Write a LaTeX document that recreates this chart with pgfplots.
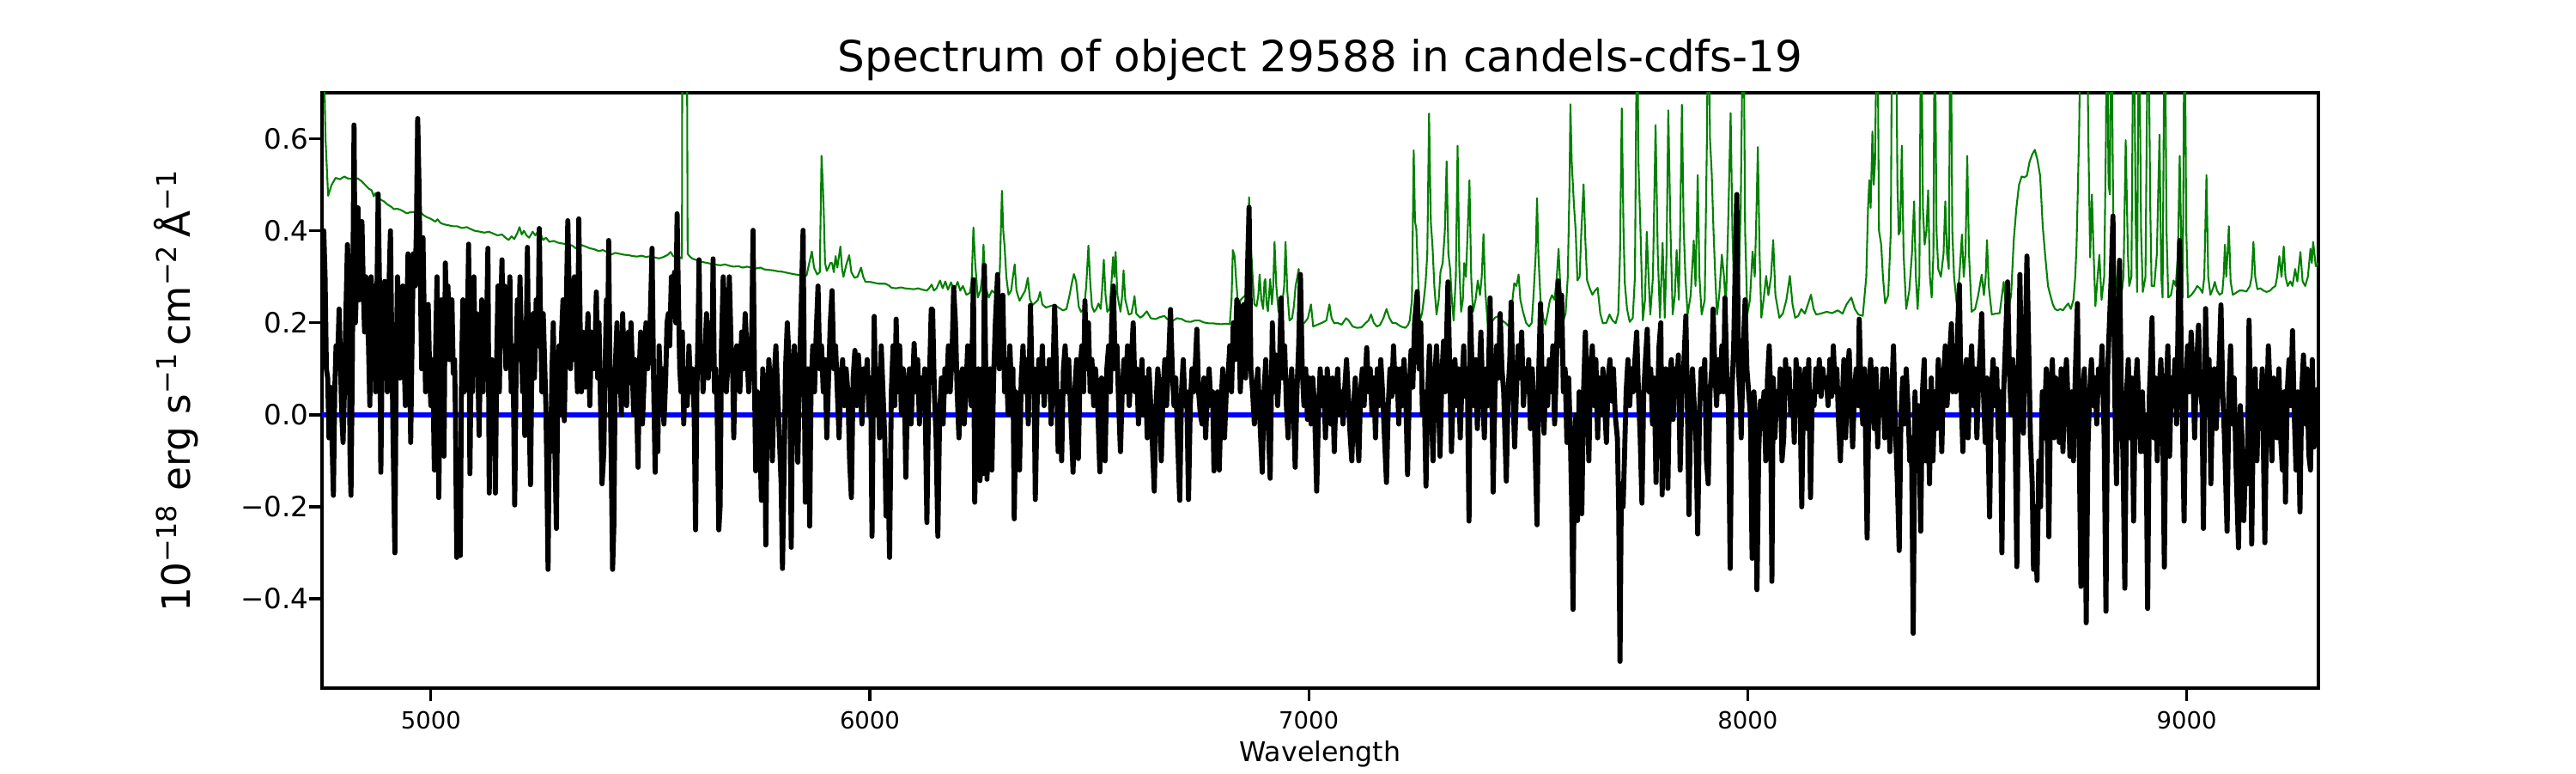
\documentclass[border=0pt]{standalone}
\usepackage{fontspec}
\setmainfont{DejaVu Sans}
\usepackage{pgfplots}
\pgfplotsset{compat=1.18}
\begin{document}
\begin{tikzpicture}
\begin{axis}[
  at={(0,0)}, anchor=south west,
  scale only axis, width=558bp, height=166.32bp,
  xmin=4752, xmax=9300, ymin=-0.594, ymax=0.70,
  axis line style={line width=0.8bp},
  tick style={line width=0.8bp, black},
  major tick length=3.5bp, tick align=outside,
  xtick pos=left, ytick pos=left,
  xtick={5000,6000,7000,8000,9000},
  xticklabels={5000,6000,7000,8000,9000},
  ytick={-0.4,-0.2,0,0.2,0.4,0.6},
  yticklabels={−0.4,−0.2,0.0,0.2,0.4,0.6},
  xticklabel style={font=\fontsize{6.6bp}{7bp}\selectfont, inner sep=0pt, anchor=north, yshift=-2.8bp},
  yticklabel style={font=\fontsize{7.8bp}{9bp}\selectfont, inner sep=0pt, anchor=east},
  every axis title/.style={at={(0.5,1)}, anchor=base, yshift=6bp, font=\fontsize{12bp}{14bp}\selectfont},
  title={Spectrum of object 29588 in candels-cdfs-19},
  every axis x label/.style={at={(axis description cs:0.5,0)}, anchor=base, yshift=-20.6bp, font=\fontsize{7.6bp}{9bp}\selectfont},
  xlabel={Wavelength},
  every axis y label/.style={at={(axis description cs:-0.0556,0.5)}, anchor=south, rotate=90, font=\fontsize{10.9bp}{13bp}\selectfont},
  ylabel={10\textsuperscript{−18} erg s\textsuperscript{−1}\,cm\textsuperscript{−2}\,Å\textsuperscript{−1}},
]
\coordinate (SW) at (rel axis cs:0,0);
% green (sky / noise)
\addplot[color={rgb,255:red,0;green,128;blue,0}, line width=0.5bp, line join=round] coordinates {
(4752,0.95)(4756,0.8)(4760,0.60)(4766,0.476)(4774,0.50)(4783,0.515)(4793,0.512)(4803,0.518)(4810,0.514)(4818,0.513)(4826,0.512)(4833,0.514)(4842,0.508)(4850,0.50)(4858,0.492)(4865,0.488)(4870,0.475)(4874,0.482)(4878,0.473)(4885,0.468)(4893,0.464)(4900,0.458)(4910,0.452)(4916,0.447)(4922,0.448)(4930,0.446)(4938,0.442)(4945,0.438)(4952,0.44)(4962,0.441)(4970,0.436)(4977,0.44)(4982,0.435)(4990,0.43)(5000,0.426)(5010,0.42)(5015,0.425)(5022,0.417)(5030,0.414)(5040,0.412)(5050,0.41)(5060,0.41)(5070,0.406)(5082,0.408)(5090,0.404)(5100,0.40)(5112,0.398)(5122,0.396)(5132,0.398)(5142,0.394)(5152,0.39)(5162,0.392)(5170,0.385)(5177,0.38)(5184,0.388)(5190,0.382)(5197,0.395)(5202,0.408)(5207,0.392)(5212,0.40)(5218,0.39)(5224,0.385)(5232,0.398)(5238,0.39)(5247,0.403)(5252,0.388)(5256,0.38)(5262,0.385)(5270,0.376)(5280,0.378)(5290,0.374)(5302,0.372)(5312,0.37)(5322,0.368)(5330,0.362)(5340,0.37)(5352,0.366)(5362,0.362)(5372,0.36)(5382,0.356)(5392,0.358)(5401,0.354)(5410,0.348)(5420,0.352)(5430,0.35)(5440,0.348)(5451,0.347)(5460,0.345)(5470,0.344)(5480,0.346)(5490,0.343)(5501,0.345)(5510,0.342)(5520,0.34)(5530,0.343)(5540,0.348)(5546,0.354)(5552,0.345)(5561,0.341)(5568,0.342)(5572,0.34)(5573,0.95)(5583,0.95)(5585,0.35)(5589,0.345)(5595,0.34)(5600,0.338)(5610,0.335)(5620,0.332)(5630,0.33)(5640,0.328)(5651,0.326)(5660,0.325)(5670,0.327)(5680,0.324)(5690,0.322)(5701,0.323)(5710,0.32)(5720,0.322)(5730,0.32)(5740,0.318)(5751,0.32)(5760,0.316)(5770,0.315)(5780,0.314)(5790,0.312)(5801,0.311)(5810,0.309)(5820,0.307)(5831,0.305)(5840,0.304)(5848,0.303)(5856,0.303)(5862,0.33)(5868,0.355)(5873,0.32)(5880,0.305)(5886,0.31)(5890,0.563)(5893,0.50)(5895,0.444)(5898,0.33)(5902,0.313)(5906,0.32)(5910,0.33)(5914,0.33)(5918,0.31)(5922,0.345)(5926,0.32)(5933,0.366)(5937,0.315)(5940,0.30)(5946,0.325)(5953,0.347)(5958,0.31)(5965,0.298)(5972,0.30)(5980,0.32)(5985,0.30)(5990,0.289)(6000,0.289)(6010,0.287)(6020,0.285)(6035,0.285)(6042,0.282)(6050,0.276)(6060,0.275)(6071,0.277)(6080,0.275)(6090,0.274)(6100,0.273)(6110,0.275)(6120,0.272)(6130,0.27)(6135,0.275)(6141,0.283)(6146,0.27)(6152,0.275)(6160,0.292)(6166,0.275)(6172,0.29)(6178,0.272)(6185,0.288)(6192,0.27)(6200,0.289)(6206,0.27)(6212,0.28)(6220,0.261)(6228,0.265)(6232,0.29)(6236,0.407)(6240,0.33)(6246,0.255)(6252,0.27)(6256,0.30)(6259,0.37)(6263,0.28)(6271,0.255)(6278,0.27)(6286,0.264)(6291,0.292)(6296,0.31)(6301,0.487)(6304,0.40)(6307,0.367)(6311,0.30)(6316,0.261)(6322,0.27)(6326,0.30)(6330,0.327)(6334,0.27)(6341,0.248)(6348,0.26)(6354,0.27)(6360,0.298)(6365,0.25)(6371,0.239)(6378,0.245)(6383,0.25)(6388,0.267)(6393,0.24)(6401,0.233)(6410,0.236)(6421,0.239)(6430,0.233)(6440,0.227)(6448,0.23)(6455,0.26)(6461,0.29)(6465,0.306)(6470,0.29)(6476,0.235)(6481,0.224)(6488,0.23)(6493,0.28)(6498,0.368)(6502,0.29)(6506,0.236)(6511,0.224)(6516,0.23)(6521,0.242)(6526,0.23)(6529,0.27)(6533,0.337)(6537,0.26)(6541,0.224)(6546,0.23)(6550,0.28)(6554,0.343)(6557,0.30)(6560,0.354)(6564,0.26)(6571,0.224)(6575,0.26)(6578,0.314)(6582,0.25)(6590,0.218)(6596,0.22)(6600,0.24)(6603,0.258)(6607,0.22)(6616,0.211)(6622,0.215)(6631,0.225)(6640,0.21)(6651,0.208)(6660,0.212)(6671,0.215)(6680,0.206)(6691,0.205)(6700,0.21)(6711,0.208)(6720,0.203)(6731,0.202)(6740,0.205)(6751,0.205)(6760,0.201)(6771,0.199)(6780,0.199)(6790,0.198)(6800,0.197)(6810,0.198)(6820,0.197)(6824,0.25)(6827,0.358)(6831,0.345)(6834,0.30)(6839,0.236)(6845,0.25)(6850,0.255)(6856,0.26)(6860,0.30)(6864,0.473)(6867,0.38)(6871,0.317)(6876,0.24)(6881,0.236)(6885,0.26)(6888,0.305)(6892,0.25)(6896,0.23)(6899,0.29)(6901,0.295)(6904,0.24)(6907,0.225)(6912,0.295)(6916,0.24)(6919,0.28)(6922,0.376)(6926,0.28)(6931,0.224)(6938,0.23)(6944,0.28)(6947,0.376)(6951,0.27)(6956,0.205)(6962,0.21)(6966,0.236)(6970,0.28)(6974,0.30)(6977,0.317)(6980,0.26)(6984,0.199)(6990,0.20)(6998,0.21)(7005,0.24)(7010,0.192)(7020,0.196)(7030,0.2)(7040,0.205)(7047,0.24)(7052,0.21)(7058,0.199)(7065,0.20)(7075,0.196)(7085,0.21)(7091,0.205)(7100,0.192)(7110,0.189)(7120,0.19)(7130,0.20)(7136,0.205)(7142,0.218)(7148,0.20)(7155,0.192)(7162,0.195)(7170,0.21)(7177,0.23)(7184,0.21)(7190,0.20)(7199,0.199)(7210,0.192)(7220,0.189)(7226,0.195)(7230,0.205)(7235,0.25)(7239,0.575)(7242,0.42)(7245,0.404)(7249,0.30)(7253,0.205)(7258,0.22)(7262,0.25)(7266,0.286)(7270,0.35)(7274,0.655)(7278,0.42)(7282,0.364)(7286,0.28)(7291,0.218)(7296,0.25)(7300,0.311)(7305,0.33)(7310,0.40)(7314,0.551)(7318,0.35)(7322,0.317)(7326,0.25)(7330,0.205)(7335,0.30)(7339,0.585)(7343,0.32)(7347,0.224)(7351,0.25)(7354,0.330)(7358,0.30)(7362,0.40)(7366,0.51)(7370,0.30)(7374,0.224)(7380,0.25)(7385,0.292)(7390,0.26)(7394,0.30)(7398,0.393)(7402,0.27)(7408,0.192)(7415,0.20)(7424,0.211)(7432,0.215)(7440,0.205)(7448,0.20)(7456,0.192)(7463,0.24)(7468,0.286)(7473,0.28)(7478,0.305)(7482,0.25)(7488,0.224)(7495,0.20)(7502,0.192)(7508,0.20)(7512,0.26)(7517,0.35)(7520,0.471)(7523,0.35)(7528,0.248)(7534,0.211)(7539,0.196)(7544,0.22)(7549,0.248)(7554,0.26)(7560,0.25)(7565,0.30)(7569,0.361)(7573,0.28)(7580,0.205)(7585,0.22)(7590,0.30)(7594,0.50)(7596,0.675)(7599,0.55)(7604,0.457)(7608,0.40)(7612,0.292)(7617,0.30)(7621,0.40)(7626,0.501)(7630,0.38)(7634,0.292)(7640,0.275)(7646,0.261)(7652,0.27)(7658,0.276)(7664,0.22)(7670,0.199)(7678,0.20)(7685,0.218)(7692,0.205)(7699,0.199)(7705,0.22)(7709,0.35)(7713,0.666)(7717,0.40)(7720,0.286)(7725,0.23)(7731,0.202)(7738,0.21)(7743,0.30)(7748,0.95)(7751,0.55)(7756,0.389)(7761,0.205)(7766,0.25)(7770,0.398)(7774,0.30)(7778,0.218)(7784,0.30)(7790,0.63)(7795,0.35)(7800,0.211)(7806,0.374)(7811,0.211)(7815,0.35)(7819,0.662)(7824,0.40)(7829,0.218)(7834,0.26)(7838,0.358)(7843,0.25)(7846,0.40)(7850,0.674)(7854,0.407)(7858,0.30)(7863,0.218)(7870,0.26)(7877,0.379)(7881,0.28)(7886,0.521)(7890,0.30)(7895,0.218)(7902,0.25)(7907,0.60)(7910,0.95)(7914,0.60)(7918,0.524)(7922,0.40)(7926,0.30)(7930,0.218)(7935,0.26)(7941,0.348)(7946,0.30)(7950,0.23)(7955,0.40)(7961,0.656)(7965,0.40)(7968,0.30)(7972,0.218)(7978,0.24)(7984,0.45)(7990,0.95)(7994,0.40)(7999,0.218)(8005,0.25)(8011,0.355)(8016,0.30)(8020,0.45)(8023,0.582)(8027,0.35)(8031,0.211)(8036,0.25)(8042,0.302)(8047,0.26)(8053,0.30)(8058,0.38)(8063,0.26)(8072,0.211)(8080,0.22)(8088,0.25)(8096,0.302)(8102,0.24)(8108,0.211)(8115,0.215)(8122,0.23)(8130,0.22)(8137,0.24)(8144,0.261)(8150,0.23)(8156,0.218)(8166,0.22)(8180,0.224)(8192,0.221)(8205,0.227)(8216,0.22)(8225,0.24)(8236,0.255)(8244,0.23)(8252,0.218)(8262,0.215)(8270,0.30)(8274,0.45)(8277,0.51)(8280,0.45)(8284,0.616)(8287,0.50)(8290,0.55)(8295,0.95)(8299,0.40)(8304,0.37)(8308,0.30)(8313,0.242)(8320,0.26)(8326,0.40)(8329,0.95)(8333,0.95)(8337,0.95)(8341,0.50)(8344,0.392)(8347,0.40)(8351,0.585)(8355,0.35)(8361,0.23)(8368,0.27)(8374,0.35)(8379,0.464)(8383,0.30)(8387,0.23)(8391,0.30)(8395,0.95)(8399,0.45)(8403,0.37)(8407,0.40)(8411,0.488)(8415,0.30)(8419,0.255)(8423,0.35)(8426,0.95)(8430,0.40)(8434,0.317)(8440,0.30)(8446,0.35)(8450,0.464)(8454,0.35)(8458,0.317)(8462,0.95)(8466,0.40)(8470,0.30)(8476,0.242)(8482,0.30)(8488,0.392)(8492,0.30)(8496,0.35)(8500,0.563)(8504,0.35)(8510,0.224)(8518,0.23)(8525,0.26)(8533,0.305)(8538,0.26)(8542,0.30)(8545,0.38)(8549,0.28)(8556,0.218)(8565,0.22)(8574,0.221)(8583,0.289)(8588,0.24)(8594,0.23)(8600,0.26)(8606,0.38)(8612,0.45)(8618,0.50)(8624,0.518)(8630,0.516)(8636,0.52)(8642,0.55)(8648,0.566)(8654,0.576)(8660,0.554)(8666,0.52)(8672,0.41)(8678,0.342)(8684,0.28)(8689,0.261)(8695,0.24)(8700,0.23)(8706,0.227)(8712,0.23)(8718,0.227)(8724,0.235)(8730,0.242)(8736,0.23)(8742,0.25)(8746,0.30)(8749,0.367)(8755,0.616)(8759,0.95)(8766,0.95)(8772,0.95)(8776,0.60)(8780,0.342)(8784,0.479)(8788,0.35)(8792,0.236)(8797,0.30)(8801,0.348)(8806,0.25)(8812,0.30)(8816,0.60)(8818,0.95)(8822,0.50)(8825,0.479)(8828,0.95)(8832,0.50)(8835,0.236)(8841,0.30)(8846,0.339)(8850,0.25)(8856,0.30)(8861,0.597)(8866,0.35)(8869,0.28)(8874,0.30)(8879,0.95)(8884,0.40)(8887,0.267)(8891,0.95)(8896,0.40)(8900,0.267)(8906,0.30)(8912,0.95)(8917,0.45)(8920,0.28)(8926,0.28)(8932,0.35)(8938,0.609)(8942,0.30)(8945,0.255)(8950,0.95)(8954,0.40)(8958,0.255)(8964,0.26)(8970,0.292)(8975,0.28)(8980,0.35)(8984,0.563)(8988,0.35)(8991,0.255)(8995,0.95)(8999,0.40)(9003,0.255)(9010,0.26)(9018,0.27)(9024,0.28)(9030,0.275)(9036,0.265)(9040,0.30)(9045,0.521)(9049,0.30)(9054,0.261)(9060,0.275)(9064,0.289)(9069,0.27)(9075,0.261)(9081,0.265)(9084,0.30)(9087,0.37)(9090,0.30)(9093,0.35)(9096,0.41)(9100,0.29)(9105,0.261)(9112,0.265)(9120,0.27)(9128,0.27)(9136,0.268)(9144,0.28)(9148,0.30)(9152,0.376)(9156,0.30)(9161,0.273)(9168,0.275)(9175,0.27)(9182,0.267)(9190,0.27)(9196,0.276)(9202,0.28)(9206,0.30)(9211,0.345)(9216,0.30)(9221,0.366)(9225,0.30)(9230,0.28)(9236,0.29)(9241,0.28)(9247,0.317)(9252,0.29)(9259,0.354)(9264,0.29)(9270,0.28)(9276,0.30)(9282,0.361)(9285,0.33)(9288,0.376)(9292,0.34)(9294,0.323)(9300,0.33)
};
% blue zero line
\addplot[color={rgb,255:red,0;green,0;blue,255}, line width=1.3bp] coordinates {(4752,0)(9280,0)};
% black spectrum
\addplot[black, line width=1.4bp, line join=round] coordinates {
(4753,0.20)(4756,0.40)(4759,0.30)(4762,0.10)(4765,0.08)(4768,-0.05)(4771,0.06)(4774,-0.02)(4778,-0.175)(4781,0.05)(4784,0.15)(4787,0.10)(4791,0.23)(4794,0.12)(4797,0.0)(4800,-0.06)(4803,0.05)(4806,0.20)(4810,0.37)(4813,0.30)(4816,-0.10)(4818,-0.175)(4821,0.10)(4825,0.63)(4828,0.20)(4831,0.29)(4834,0.45)(4837,0.25)(4840,0.30)(4843,0.42)(4846,0.28)(4849,0.18)(4852,0.30)(4855,0.25)(4858,0.15)(4861,0.02)(4864,0.30)(4867,0.22)(4870,0.28)(4874,0.05)(4877,0.25)(4880,0.48)(4883,0.28)(4886,-0.125)(4889,0.12)(4892,0.28)(4895,0.29)(4898,0.20)(4901,0.05)(4904,0.26)(4908,0.40)(4911,0.15)(4914,-0.05)(4918,-0.30)(4921,0.10)(4924,0.30)(4927,0.22)(4930,0.08)(4933,0.18)(4936,0.28)(4939,0.12)(4942,0.02)(4945,0.20)(4948,0.35)(4951,0.25)(4954,-0.06)(4957,0.15)(4960,0.35)(4964,0.28)(4967,0.40)(4970,0.644)(4973,0.50)(4976,0.30)(4979,0.10)(4982,0.385)(4985,0.20)(4988,0.05)(4991,0.11)(4994,0.24)(4997,0.10)(5000,0.02)(5004,0.12)(5008,-0.12)(5011,0.15)(5014,0.30)(5018,-0.18)(5021,0.05)(5024,0.25)(5027,0.10)(5030,-0.09)(5033,0.33)(5036,0.20)(5039,0.28)(5042,0.12)(5045,0.22)(5048,0.25)(5051,0.09)(5054,0.12)(5056,0.0)(5059,-0.31)(5062,-0.29)(5065,-0.20)(5067,-0.306)(5070,0.10)(5073,0.25)(5076,0.05)(5079,0.18)(5082,0.10)(5086,0.371)(5089,-0.128)(5092,0.15)(5095,0.05)(5098,0.30)(5101,0.12)(5104,0.22)(5107,0.10)(5110,-0.045)(5113,0.15)(5116,0.25)(5119,0.05)(5122,0.20)(5125,0.10)(5128,0.25)(5130,0.362)(5133,-0.17)(5136,0.05)(5139,0.12)(5142,-0.02)(5145,0.10)(5147,-0.17)(5150,0.12)(5153,0.28)(5156,0.05)(5159,0.22)(5162,0.337)(5165,0.15)(5168,0.28)(5171,0.10)(5174,0.22)(5177,0.18)(5180,0.30)(5183,0.05)(5187,0.15)(5191,-0.196)(5194,0.08)(5197,0.25)(5200,0.12)(5203,0.30)(5206,0.18)(5209,0.05)(5212,0.20)(5214,-0.045)(5217,0.15)(5220,0.364)(5223,0.05)(5227,-0.152)(5230,0.10)(5233,0.22)(5236,0.08)(5240,0.25)(5244,0.15)(5247,0.405)(5250,0.20)(5253,0.05)(5256,0.22)(5259,0.12)(5262,0.02)(5264,-0.10)(5267,-0.336)(5270,0.0)(5273,-0.08)(5276,0.10)(5279,0.20)(5282,-0.05)(5286,-0.247)(5289,0.05)(5292,0.15)(5295,0.0)(5298,0.18)(5301,0.25)(5304,-0.013)(5308,0.20)(5312,0.422)(5315,0.28)(5318,0.10)(5321,0.25)(5324,0.12)(5327,0.30)(5330,0.18)(5334,0.05)(5337,0.426)(5340,0.20)(5343,0.05)(5346,0.18)(5349,0.12)(5352,0.06)(5355,0.15)(5358,0.22)(5362,0.02)(5366,0.18)(5370,0.10)(5374,0.15)(5377,0.267)(5380,0.08)(5383,0.20)(5386,0.05)(5390,-0.15)(5394,-0.082)(5397,0.10)(5400,0.25)(5403,0.15)(5405,0.379)(5408,0.10)(5411,-0.10)(5414,-0.336)(5417,-0.237)(5420,0.10)(5424,0.20)(5428,0.05)(5431,0.12)(5434,0.0)(5437,0.22)(5440,0.10)(5443,0.15)(5446,0.02)(5450,0.18)(5453,0.07)(5456,0.20)(5459,0.10)(5462,0.0)(5465,0.12)(5468,0.05)(5472,-0.114)(5475,0.10)(5478,0.18)(5482,-0.02)(5486,0.08)(5490,0.20)(5494,0.10)(5498,0.15)(5501,0.25)(5504,0.362)(5507,0.10)(5511,-0.125)(5514,0.08)(5517,-0.08)(5520,0.15)(5524,0.05)(5528,0.10)(5531,-0.02)(5535,0.08)(5538,0.20)(5541,0.22)(5544,0.15)(5548,0.30)(5552,0.25)(5555,0.31)(5558,0.20)(5561,0.437)(5564,0.25)(5567,0.10)(5570,0.05)(5573,0.18)(5576,-0.02)(5580,0.10)(5584,0.02)(5588,0.15)(5592,0.05)(5596,0.10)(5600,0.0)(5603,-0.25)(5606,0.05)(5609,0.20)(5611,0.337)(5614,0.10)(5617,0.15)(5620,0.05)(5624,0.12)(5628,0.22)(5632,0.08)(5636,0.20)(5640,0.10)(5643,0.339)(5646,0.05)(5649,0.10)(5652,0.02)(5656,-0.25)(5659,-0.198)(5662,0.15)(5666,0.30)(5670,0.22)(5673,0.05)(5676,0.10)(5680,0.30)(5684,0.15)(5687,0.13)(5690,-0.05)(5693,0.10)(5697,0.15)(5700,0.13)(5704,0.05)(5708,0.18)(5712,0.10)(5716,0.22)(5720,0.14)(5724,0.05)(5728,0.12)(5731,0.18)(5734,0.401)(5737,0.10)(5740,-0.122)(5744,0.05)(5748,0.02)(5753,-0.186)(5756,0.10)(5760,0.05)(5763,-0.283)(5766,0.0)(5770,0.12)(5774,0.05)(5778,-0.10)(5782,0.08)(5786,0.15)(5790,0.05)(5794,-0.05)(5798,-0.15)(5801,-0.334)(5805,-0.10)(5808,0.10)(5812,0.20)(5816,0.12)(5818,0.05)(5821,-0.288)(5824,0.05)(5828,0.15)(5832,0.05)(5836,-0.103)(5840,0.10)(5844,0.25)(5848,0.401)(5851,0.05)(5853,-0.19)(5856,0.0)(5859,0.10)(5863,-0.242)(5866,0.05)(5870,0.15)(5874,0.05)(5878,0.18)(5882,0.28)(5886,0.10)(5890,0.15)(5894,0.05)(5898,0.12)(5902,-0.05)(5906,0.08)(5910,0.20)(5914,0.27)(5918,0.10)(5922,0.15)(5926,0.05)(5930,-0.05)(5934,0.08)(5938,0.12)(5942,0.02)(5946,0.10)(5950,0.05)(5954,-0.10)(5958,-0.18)(5962,0.08)(5966,0.14)(5970,0.02)(5974,0.13)(5978,0.06)(5982,-0.02)(5986,0.10)(5990,0.05)(5994,0.12)(5998,0.0)(6002,0.08)(6005,-0.264)(6008,0.05)(6010,0.214)(6014,0.0)(6018,0.10)(6022,-0.05)(6026,0.15)(6030,0.05)(6034,-0.05)(6037,-0.22)(6041,-0.10)(6045,-0.31)(6049,0.05)(6053,0.15)(6057,0.02)(6060,0.208)(6064,0.05)(6068,0.15)(6072,0.0)(6076,0.10)(6079,0.05)(6082,-0.136)(6086,0.05)(6090,0.10)(6094,-0.02)(6098,0.08)(6101,0.155)(6105,0.05)(6109,0.12)(6113,-0.02)(6117,0.08)(6121,0.02)(6125,0.10)(6130,-0.234)(6134,0.05)(6137,0.12)(6140,0.23)(6143,0.229)(6147,0.05)(6151,-0.05)(6155,-0.264)(6159,0.0)(6163,0.08)(6167,-0.02)(6171,0.10)(6175,0.05)(6179,0.15)(6183,0.05)(6187,0.12)(6191,0.277)(6195,0.20)(6199,0.05)(6203,-0.05)(6207,0.08)(6211,0.10)(6215,-0.02)(6219,0.05)(6223,0.15)(6227,0.10)(6231,0.02)(6236,0.294)(6239,-0.19)(6243,0.05)(6247,0.10)(6251,-0.143)(6255,0.10)(6258,-0.128)(6261,0.325)(6264,0.10)(6267,-0.14)(6270,0.02)(6274,0.10)(6278,-0.12)(6282,0.08)(6286,0.20)(6291,0.305)(6295,0.10)(6299,0.15)(6303,0.26)(6307,0.05)(6311,0.12)(6315,0.0)(6319,0.15)(6323,0.05)(6326,0.10)(6329,-0.226)(6333,0.05)(6337,-0.05)(6341,-0.12)(6345,0.08)(6349,0.15)(6353,0.05)(6357,0.12)(6361,-0.02)(6366,0.238)(6370,0.05)(6374,0.10)(6377,-0.184)(6381,0.02)(6385,0.12)(6389,0.05)(6393,0.15)(6397,0.02)(6401,0.10)(6405,0.05)(6409,0.12)(6413,-0.02)(6417,0.08)(6421,0.236)(6425,0.10)(6429,-0.08)(6433,0.05)(6437,-0.10)(6441,0.10)(6445,0.15)(6449,0.05)(6453,0.12)(6457,0.02)(6463,-0.125)(6467,0.05)(6471,0.12)(6475,-0.095)(6479,0.10)(6483,0.15)(6487,0.05)(6490,0.248)(6494,0.10)(6498,0.20)(6502,0.05)(6506,0.12)(6510,0.02)(6514,0.10)(6518,0.05)(6524,-0.124)(6528,0.08)(6532,0.0)(6536,-0.10)(6540,0.10)(6544,0.15)(6548,0.05)(6551,0.20)(6555,0.28)(6559,0.10)(6563,0.15)(6567,0.02)(6571,-0.08)(6575,0.05)(6579,0.12)(6583,0.05)(6587,0.15)(6591,0.02)(6595,0.10)(6600,0.20)(6604,0.05)(6608,0.10)(6612,-0.02)(6616,0.05)(6620,0.12)(6624,0.0)(6628,0.08)(6632,-0.05)(6636,0.10)(6640,0.02)(6644,-0.07)(6648,-0.166)(6652,0.02)(6656,0.10)(6660,0.05)(6664,-0.10)(6668,0.05)(6672,0.12)(6676,0.02)(6680,0.10)(6685,0.229)(6689,0.10)(6693,0.02)(6697,0.08)(6701,-0.05)(6706,-0.186)(6710,0.05)(6714,0.12)(6718,0.02)(6722,0.05)(6726,-0.184)(6730,0.02)(6734,0.10)(6738,0.05)(6742,0.12)(6745,0.186)(6749,0.05)(6753,0.0)(6757,-0.02)(6761,0.08)(6765,-0.05)(6769,0.05)(6773,0.10)(6777,0.02)(6781,0.05)(6784,-0.122)(6788,0.0)(6792,0.05)(6796,-0.12)(6800,0.02)(6804,0.10)(6808,-0.05)(6812,0.05)(6816,0.08)(6820,0.15)(6824,0.05)(6828,0.20)(6832,0.12)(6836,0.25)(6840,0.239)(6844,0.05)(6848,0.15)(6852,0.24)(6856,0.08)(6860,0.30)(6864,0.451)(6868,0.10)(6872,0.05)(6876,-0.02)(6880,0.05)(6884,0.10)(6888,0.0)(6894,-0.125)(6898,0.05)(6902,0.12)(6906,0.02)(6912,-0.138)(6917,0.20)(6921,0.05)(6925,0.13)(6929,0.02)(6933,0.10)(6937,0.254)(6941,0.08)(6945,0.15)(6949,0.02)(6953,-0.05)(6957,0.05)(6961,0.10)(6965,0.02)(6969,-0.114)(6973,0.05)(6977,0.15)(6981,0.305)(6985,0.10)(6989,0.02)(6993,0.10)(6997,-0.01)(7001,0.08)(7005,-0.02)(7009,0.08)(7013,0.02)(7018,-0.166)(7022,0.0)(7026,0.10)(7030,0.02)(7034,0.08)(7038,-0.05)(7042,0.10)(7046,0.05)(7050,-0.02)(7054,0.08)(7058,-0.08)(7062,0.05)(7066,0.10)(7070,0.0)(7074,0.05)(7078,-0.02)(7082,0.06)(7086,0.12)(7090,0.04)(7094,-0.04)(7098,-0.1)(7102,0.02)(7106,0.08)(7110,-0.04)(7114,-0.1)(7118,0.05)(7122,0.1)(7126,0.02)(7132,0.146)(7136,0.05)(7140,0.10)(7144,0.0)(7148,0.08)(7152,-0.05)(7156,0.10)(7160,0.02)(7164,0.12)(7168,0.05)(7172,-0.04)(7177,-0.147)(7181,0.02)(7185,0.10)(7189,0.04)(7193,0.15)(7197,0.05)(7201,0.10)(7205,-0.02)(7209,0.10)(7213,0.02)(7217,0.12)(7221,0.04)(7225,-0.13)(7229,0.05)(7233,0.14)(7237,0.06)(7241,0.20)(7247,0.268)(7251,0.10)(7255,0.20)(7259,0.0)(7263,0.05)(7267,-0.155)(7271,0.05)(7275,0.15)(7279,0.02)(7283,-0.10)(7287,0.08)(7291,0.15)(7295,0.05)(7299,-0.09)(7303,0.08)(7307,0.16)(7311,0.05)(7317,0.289)(7321,0.10)(7325,-0.08)(7329,0.05)(7333,0.12)(7337,0.02)(7341,0.10)(7345,-0.05)(7349,0.07)(7353,0.15)(7357,0.04)(7361,0.10)(7365,-0.231)(7368,0.233)(7372,0.10)(7376,0.02)(7380,0.12)(7384,-0.03)(7388,0.08)(7392,0.18)(7396,0.05)(7400,-0.05)(7404,0.10)(7408,0.02)(7413,0.254)(7417,0.05)(7420,-0.168)(7424,0.05)(7428,0.15)(7432,0.08)(7436,0.22)(7440,0.10)(7444,0.05)(7450,-0.144)(7454,0.05)(7458,0.12)(7461,0.245)(7465,0.05)(7469,-0.07)(7473,0.05)(7477,0.15)(7481,0.08)(7485,0.18)(7489,0.02)(7493,0.10)(7497,0.05)(7501,0.12)(7505,-0.03)(7509,0.10)(7513,0.02)(7520,-0.239)(7524,0.10)(7528,0.242)(7532,0.05)(7536,-0.04)(7540,0.10)(7544,0.02)(7548,0.12)(7552,0.05)(7556,0.15)(7560,-0.02)(7564,0.10)(7568,0.291)(7572,0.15)(7576,0.26)(7580,0.05)(7584,0.10)(7588,-0.06)(7592,0.08)(7596,-0.05)(7599,-0.20)(7602,-0.423)(7605,-0.10)(7608,0.0)(7612,-0.23)(7616,0.05)(7619,-0.05)(7622,-0.215)(7626,0.05)(7630,0.18)(7634,0.05)(7638,-0.10)(7642,0.10)(7646,0.15)(7650,0.02)(7654,0.12)(7658,-0.05)(7662,0.08)(7666,0.0)(7670,0.10)(7674,0.02)(7678,-0.06)(7682,0.08)(7686,0.12)(7690,0.03)(7694,0.10)(7698,0.0)(7703,-0.05)(7706,-0.20)(7709,-0.536)(7712,-0.15)(7716,-0.20)(7719,-0.10)(7723,0.05)(7727,0.12)(7731,0.02)(7735,0.10)(7739,0.05)(7743,0.12)(7747,0.18)(7751,0.05)(7755,-0.05)(7759,-0.192)(7763,0.05)(7767,0.12)(7771,0.186)(7775,0.05)(7779,0.10)(7783,-0.02)(7787,0.08)(7791,-0.147)(7795,0.05)(7798,0.15)(7802,0.20)(7805,-0.174)(7809,0.05)(7813,0.10)(7818,-0.16)(7822,0.08)(7826,0.12)(7830,-0.01)(7834,0.10)(7838,0.05)(7842,0.13)(7846,-0.12)(7850,0.05)(7854,0.10)(7859,0.215)(7862,0.05)(7866,-0.217)(7870,0.02)(7874,0.10)(7878,0.02)(7882,-0.05)(7886,-0.259)(7890,0.0)(7894,0.10)(7898,0.05)(7902,0.12)(7906,-0.10)(7910,-0.15)(7914,0.05)(7918,0.10)(7921,0.23)(7925,0.10)(7929,0.02)(7933,0.12)(7937,0.05)(7941,0.15)(7945,0.05)(7948,0.254)(7952,0.10)(7956,0.02)(7960,-0.334)(7964,0.05)(7968,0.15)(7971,0.30)(7975,0.479)(7979,0.10)(7983,0.02)(7985,-0.05)(7990,0.15)(7994,0.25)(7998,0.10)(8002,0.05)(8006,0.0)(8010,-0.312)(8014,0.05)(8017,0.0)(8021,-0.38)(8025,-0.08)(8029,0.03)(8033,-0.03)(8037,0.05)(8041,-0.10)(8045,0.08)(8049,0.15)(8052,0.05)(8055,-0.362)(8058,0.08)(8062,-0.05)(8066,0.05)(8070,0.0)(8074,0.10)(8078,-0.10)(8082,-0.05)(8086,0.12)(8090,0.05)(8094,0.10)(8098,0.0)(8102,0.05)(8106,-0.06)(8110,0.12)(8114,0.05)(8118,0.10)(8123,-0.20)(8127,0.05)(8131,0.10)(8135,-0.03)(8139,0.12)(8143,-0.18)(8147,0.05)(8151,0.02)(8155,0.10)(8159,0.05)(8163,0.12)(8167,0.04)(8171,0.10)(8175,0.06)(8179,0.08)(8183,0.02)(8187,0.12)(8191,0.04)(8195,0.15)(8199,0.05)(8203,0.10)(8207,-0.02)(8211,-0.10)(8215,0.02)(8219,0.12)(8223,-0.05)(8227,0.08)(8231,0.14)(8235,0.02)(8239,-0.07)(8243,0.05)(8247,0.10)(8251,0.02)(8254,0.208)(8258,0.05)(8262,-0.02)(8266,0.10)(8272,-0.268)(8276,0.05)(8280,0.12)(8284,0.03)(8288,-0.03)(8292,0.10)(8296,-0.07)(8300,0.05)(8304,0.02)(8308,0.10)(8312,-0.05)(8316,0.10)(8320,0.02)(8324,-0.08)(8328,0.05)(8332,0.15)(8336,-0.02)(8341,-0.15)(8345,-0.295)(8349,0.0)(8353,0.08)(8357,-0.02)(8361,0.10)(8365,0.02)(8369,-0.10)(8373,-0.05)(8377,-0.475)(8381,0.05)(8385,-0.10)(8389,0.02)(8394,-0.253)(8398,0.05)(8402,0.12)(8406,-0.10)(8410,0.05)(8414,-0.15)(8418,0.08)(8422,-0.10)(8426,0.05)(8430,-0.03)(8434,0.12)(8438,0.05)(8442,-0.08)(8446,0.08)(8450,0.15)(8454,0.02)(8458,0.10)(8464,0.198)(8467,0.05)(8471,0.12)(8474,0.05)(8478,0.18)(8482,0.283)(8486,0.05)(8490,-0.08)(8494,0.05)(8498,0.12)(8502,-0.05)(8506,0.08)(8510,0.15)(8514,0.02)(8518,0.10)(8522,-0.05)(8526,0.08)(8530,0.15)(8533,0.22)(8537,0.05)(8541,-0.06)(8545,0.08)(8551,-0.222)(8555,0.05)(8559,0.12)(8563,0.02)(8567,0.10)(8571,-0.05)(8575,0.05)(8579,-0.30)(8583,0.05)(8588,0.18)(8592,0.289)(8596,0.10)(8600,0.0)(8604,0.12)(8608,0.05)(8613,-0.33)(8617,0.10)(8620,0.305)(8624,0.05)(8628,-0.04)(8632,0.15)(8636,0.345)(8640,0.15)(8644,-0.05)(8648,-0.15)(8651,-0.336)(8655,-0.20)(8659,-0.36)(8663,-0.10)(8667,-0.20)(8671,0.05)(8675,-0.05)(8680,0.10)(8686,-0.265)(8690,0.05)(8694,0.12)(8698,-0.05)(8702,0.08)(8706,0.0)(8710,-0.06)(8714,0.10)(8718,-0.08)(8722,0.05)(8726,0.12)(8730,0.02)(8734,-0.09)(8738,0.05)(8742,-0.10)(8746,0.08)(8751,0.242)(8755,-0.05)(8759,-0.373)(8763,0.05)(8767,0.10)(8771,-0.452)(8775,-0.07)(8779,0.05)(8783,0.12)(8787,0.02)(8791,0.08)(8795,-0.02)(8799,0.10)(8803,0.05)(8807,0.15)(8812,-0.05)(8816,-0.427)(8820,0.10)(8824,0.20)(8828,0.30)(8832,0.432)(8836,0.05)(8840,-0.15)(8844,0.10)(8847,0.336)(8851,0.05)(8855,-0.10)(8859,-0.377)(8863,0.05)(8867,0.12)(8871,-0.05)(8875,0.08)(8879,-0.231)(8883,0.05)(8887,0.12)(8891,0.02)(8895,-0.08)(8899,0.05)(8903,-0.08)(8907,0.0)(8911,-0.421)(8915,0.05)(8918,0.12)(8921,0.211)(8925,-0.05)(8929,0.08)(8933,-0.10)(8937,0.05)(8941,0.12)(8945,0.02)(8949,-0.331)(8953,0.05)(8957,0.15)(8961,-0.09)(8965,0.08)(8969,0.02)(8973,0.12)(8977,-0.02)(8981,0.25)(8984,0.379)(8988,0.10)(8991,-0.05)(8994,-0.231)(8998,0.05)(9002,0.15)(9006,0.05)(9010,0.18)(9014,0.10)(9018,-0.05)(9022,0.10)(9027,0.195)(9031,0.05)(9035,0.02)(9038,-0.247)(9043,0.231)(9047,0.05)(9051,0.12)(9055,-0.15)(9059,0.05)(9063,0.10)(9067,-0.03)(9071,0.05)(9074,0.12)(9078,0.239)(9082,0.05)(9086,-0.05)(9092,-0.253)(9096,0.05)(9100,0.15)(9104,-0.02)(9108,0.08)(9112,-0.10)(9118,-0.289)(9122,0.02)(9126,-0.05)(9130,-0.23)(9134,-0.10)(9138,-0.15)(9142,0.206)(9145,0.05)(9148,-0.281)(9152,0.02)(9156,0.10)(9160,-0.10)(9164,0.05)(9168,-0.03)(9172,0.10)(9178,-0.278)(9182,0.0)(9186,0.15)(9190,0.05)(9194,-0.10)(9198,0.08)(9202,0.02)(9206,-0.05)(9210,0.10)(9214,-0.05)(9218,-0.12)(9222,0.05)(9225,-0.19)(9229,0.05)(9233,0.12)(9237,0.02)(9241,0.183)(9245,0.0)(9249,-0.12)(9253,0.05)(9258,-0.211)(9262,0.05)(9266,0.13)(9270,-0.02)(9274,0.10)(9278,-0.085)(9282,-0.12)(9286,0.12)(9290,-0.07)(9294,0.05)(9297,0.055)(9300,-0.02)
};
\end{axis}
\pgfresetboundingbox
\path[use as bounding box] ([xshift=-90bp,yshift=-23.76bp]SW) rectangle ++(720bp,216bp);
\end{tikzpicture}
\end{document}
